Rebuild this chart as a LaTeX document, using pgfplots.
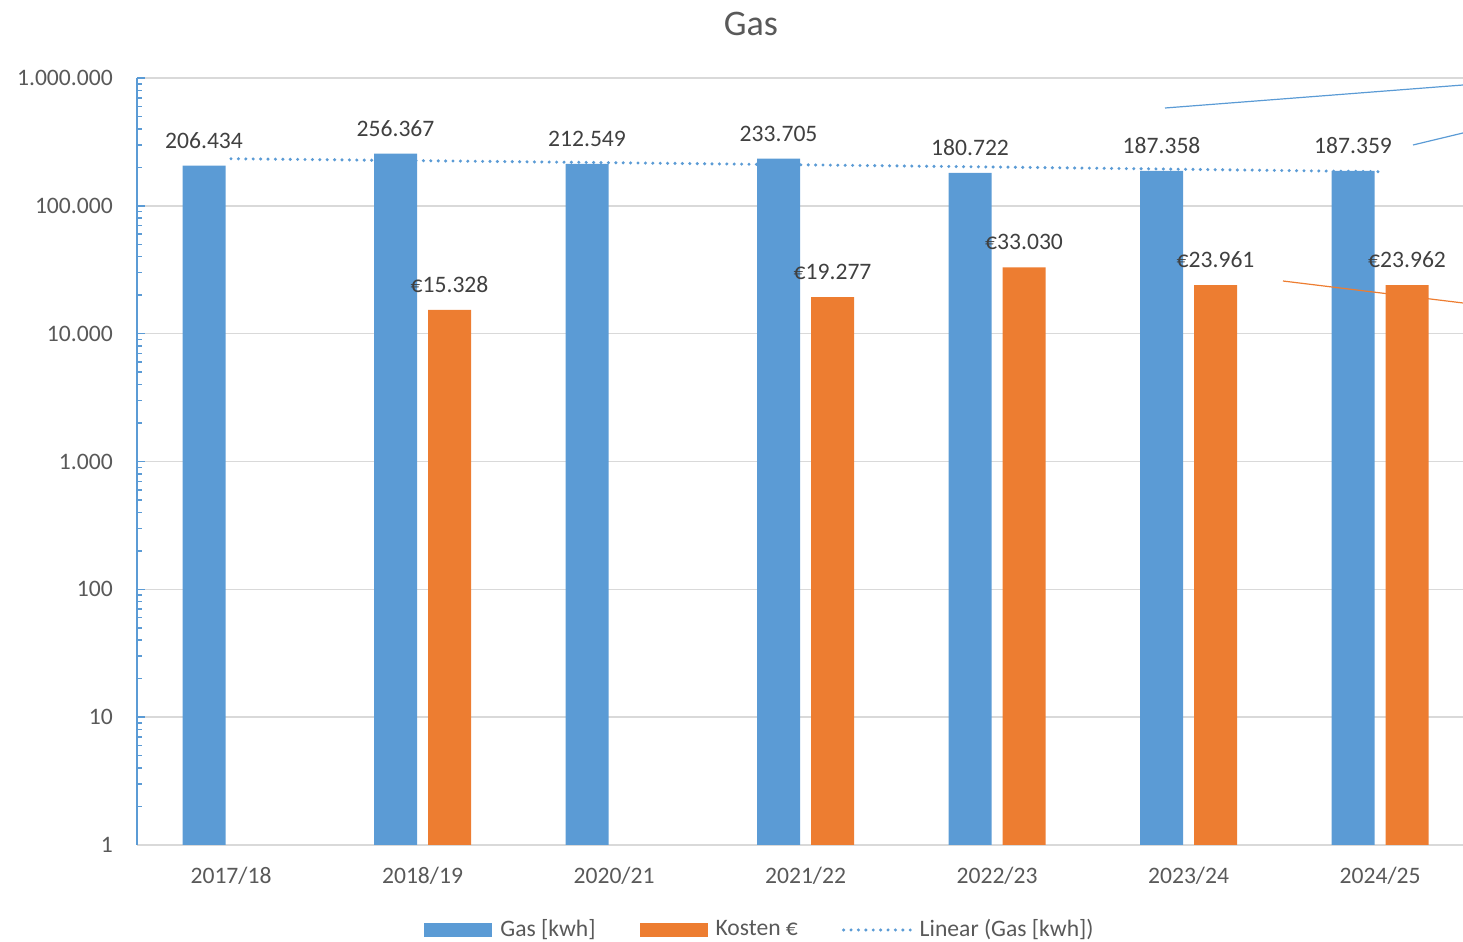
\documentclass[border=0pt]{standalone}
\usepackage{pgfplots}
\pgfplotsset{compat=1.18}
\usepackage{fontspec}
\setmainfont{Carlito}
\definecolor{gasblue}{HTML}{5B9BD5}
\definecolor{kostorange}{HTML}{ED7D31}
\definecolor{txtgrey}{HTML}{595959}
\definecolor{lblgrey}{HTML}{404040}
\definecolor{gridgrey}{HTML}{D9D9D9}
\begin{document}
\begin{tikzpicture}
\fontsize{11.8}{14}\selectfont
\path[use as bounding box] (0,0) rectangle (731.5pt,471pt);
\node[text=txtgrey, font=\fontsize{18}{21}\selectfont] at (375.5pt,459pt) {Gas};
\begin{axis}[
  at={(68.5pt,48.5pt)}, anchor=south west,
  scale only axis, width=663pt, height=383.5pt,
  ymode=log, ymin=1, ymax=1000000,
  xmin=-0.491, xmax=6.433,
  bar width=21.5pt,
  xtick={0,...,6},
  xticklabels={2017/18,2018/19,2020/21,2021/22,2022/23,2023/24,2024/25},
  ytick={1,10,100,1000,10000,100000,1000000},
  yticklabels={1,10,100,1.000,10.000,100.000,1.000.000},
  minor ytick={2,3,4,5,6,7,8,9,20,30,40,50,60,70,80,90,200,300,400,500,600,700,800,900,2000,3000,4000,5000,6000,7000,8000,9000,20000,30000,40000,50000,60000,70000,80000,90000,200000,300000,400000,500000,600000,700000,800000,900000},
  axis x line*=bottom, axis y line*=left,
  x axis line style={gridgrey, line width=0.75pt},
  y axis line style={gasblue, line width=0.75pt},
  tick align=inside,
  x tick style={draw=none},
  y tick style={gasblue, line width=0.75pt},
  major tick length=4pt, minor tick length=2.5pt,
  ymajorgrids, major grid style={gridgrey, line width=0.75pt},
  yticklabel style={text=txtgrey, xshift=-8pt, font=\fontsize{11.8}{14}\selectfont},
  xticklabel style={text=txtgrey, yshift=-7pt, font=\fontsize{11.8}{14}\selectfont},
  legend style={at={(0.4706,-0.1108)}, anchor=center, draw=none, fill=none,
    legend columns=3, text=txtgrey, font=\fontsize{11.8}{14}\selectfont,
    /tikz/every even column/.append style={column sep=20pt}},
  legend cell align=left,
  every node near coord/.append style={text=lblgrey, font=\fontsize{11.8}{14}\selectfont, yshift=4.5pt},
]
\addplot[ybar, bar shift=-13.5pt, fill=gasblue, draw=none,
  point meta=explicit symbolic, nodes near coords,
  every node near coord/.append style={xshift=-13.5pt},
  legend image code/.code={\fill[gasblue] (0pt,-3.5pt) rectangle (34pt,3.5pt); \path (36pt,0pt);}]
  coordinates {(0,206434)[206.434] (1,256367)[256.367] (2,212549)[212.549] (3,233705)[233.705]
               (4,180722)[180.722] (5,187358)[187.358] (6,187359)[187.359]};
\addlegendentry{Gas [kwh]}
\addplot[ybar, bar shift=13.5pt, fill=kostorange, draw=none,
  point meta=explicit symbolic, nodes near coords,
  every node near coord/.append style={xshift=13.5pt},
  legend image code/.code={\fill[kostorange] (0pt,-3.5pt) rectangle (34pt,3.5pt); \path (36pt,0pt);}]
  coordinates {(1,15328)[€15.328] (3,19277)[€19.277] (4,33030)[€33.030]
               (5,23961)[€23.961] (6,23962)[€23.962]};
\addlegendentry{Kosten €}
\addplot[sharp plot, no marks, gasblue, line width=1.7pt, line cap=round, dash pattern=on 0pt off 3.7pt,
  legend image code/.code={\draw[gasblue, line width=1.7pt, line cap=round, dash pattern=on 0pt off 3.7pt] (0.8pt,0pt) -- (35pt,0pt); \path (36pt,0pt);}]
  coordinates {(0,233549) (1,225440) (2,217330) (3,209221) (4,201111) (5,193001) (6,184892)};
\addlegendentry{Linear (Gas [kwh])}
\addplot[sharp plot, no marks, gasblue, line width=0.6pt, forget plot]
  coordinates {(4.877,582500) (6.433,881500)};
\addplot[sharp plot, no marks, gasblue, line width=0.6pt, forget plot]
  coordinates {(6.172,299200) (6.433,371400)};
\addplot[sharp plot, no marks, kostorange, line width=0.6pt, forget plot]
  coordinates {(5.493,25820) (6.433,17380)};
\end{axis}
\end{tikzpicture}
\end{document}
